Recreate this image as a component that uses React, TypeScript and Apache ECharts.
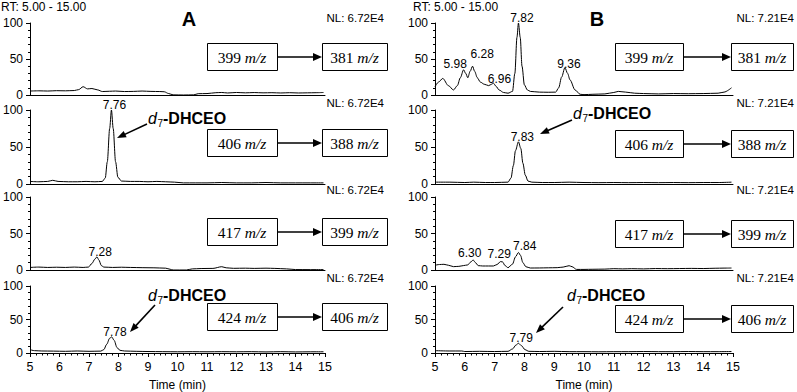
import React, { useEffect, useRef } from "react";
import * as echarts from "echarts";

// ---------- DATA ----------
const xTicks = [5, 6, 7, 8, 9, 10, 11, 12, 13, 14, 15];
const panelTitles = ["A", "B"];
const rtRange = "RT: 5.00 - 15.00";
const nlA = "NL: 6.72E4";
const nlB = "NL: 7.21E4";
const transitions = [
  ["399", "381"],
  ["406", "388"],
  ["417", "399"],
  ["424", "406"],
];

// Panel A traces (time min, relative abundance %)
const traceA1 = [[5.0,5.5],[5.3,5.8],[5.6,5.5],[5.9,6],[6.2,5.8],[6.5,6.2],[6.65,7.5],[6.8,11.5],[6.95,8.5],[7.1,9],[7.3,7],[7.45,4.8],[7.7,5.2],[7.9,5.5],[8.2,4.8],[8.5,5],[8.8,5.5],[9.1,5],[9.4,4.8],[9.55,4.5],[9.7,2],[9.85,0.2],[10.2,0],[10.55,0.2],[10.7,1.8],[11.0,2],[11.3,3.2],[11.5,3.5],[11.7,2.8],[12.0,3.5],[12.3,3],[12.6,3.4],[12.9,3],[13.2,3.2],[13.5,2.8],[13.8,3.2],[14.1,2.8],[14.4,3],[14.7,3.2],[14.95,3.5]];
const traceA2 = [[5.0,3.5],[5.3,3],[5.6,3.5],[5.77,5],[5.95,3.5],[6.3,3],[6.6,3],[6.9,3.5],[7.2,3],[7.45,3.5],[7.55,8],[7.62,30],[7.7,75],[7.76,100],[7.82,75],[7.9,30],[7.98,9],[8.1,4],[8.4,3.5],[8.7,3.5],[9.0,3],[9.3,3.5],[9.6,3],[9.9,2.5],[10.2,1.5],[10.6,1.5],[11.0,1.5],[11.5,2],[12.0,1.5],[12.5,1.5],[13.0,2],[13.5,1.5],[14.0,1.5],[14.5,1.5],[14.95,1.5]];
const traceA3 = [[5.0,3.5],[5.3,4],[5.6,3.5],[5.9,3.8],[6.2,3.5],[6.5,4],[6.8,3.5],[6.98,4],[7.1,9],[7.2,15],[7.27,18],[7.33,14],[7.42,6],[7.5,4],[7.8,3.5],[8.1,3.8],[8.4,3.5],[8.8,3.2],[9.2,3],[9.6,2.5],[9.75,1],[9.85,0],[10.3,0],[10.5,1.5],[10.8,2],[11.2,2.2],[11.5,4.5],[11.65,3],[11.9,2.3],[12.3,2.5],[12.6,2.2],[13.0,2.5],[13.3,2.2],[13.7,1.5],[14.0,0.6],[14.5,0.5],[14.95,0.5]];
const traceA4 = [[5.0,5],[5.15,3.5],[5.4,3],[5.8,2.8],[6.2,2.5],[6.6,3],[7.0,2.5],[7.4,2.8],[7.5,5],[7.6,13],[7.7,22],[7.77,24],[7.85,19],[7.95,8],[8.05,4],[8.2,3],[8.6,2.5],[9.0,2.2],[9.5,2],[10.0,1.8],[10.5,2],[11.0,1.8],[11.5,2],[12.0,1.8],[12.5,2],[13.0,1.6],[13.5,2],[14.0,1.6],[14.5,1.8],[14.95,1.8]];

// Panel B traces
const traceB1 = [[5.0,11.5],[5.12,18],[5.26,23],[5.45,13],[5.62,7],[5.75,13],[5.85,24],[5.96,35],[6.03,30],[6.1,24],[6.18,33],[6.26,40],[6.33,33],[6.42,24],[6.52,18],[6.65,15],[6.8,13],[6.9,15],[6.96,16.5],[7.05,12],[7.15,7],[7.3,3.5],[7.45,2.5],[7.6,5],[7.68,30],[7.75,80],[7.8,100],[7.86,80],[7.92,40],[8.0,14],[8.1,7],[8.2,5],[8.5,4],[8.8,3.8],[9.05,4],[9.15,10],[9.25,25],[9.36,38],[9.45,30],[9.53,21],[9.7,7],[9.87,1],[10.0,0.5],[10.3,1],[10.7,1.5],[11.0,3.5],[11.15,5],[11.4,4],[11.7,2.5],[12.0,2],[12.5,1.5],[13.0,2],[13.5,1.8],[14.0,2],[14.5,2.5],[14.7,4],[14.95,10]];
const traceB2 = [[5.0,2.5],[5.5,2.5],[6.0,2],[6.3,2.5],[6.7,2],[7.0,2],[7.45,2.5],[7.55,8],[7.63,25],[7.7,45],[7.8,57],[7.88,48],[7.95,28],[8.03,12],[8.12,4],[8.25,2.5],[8.6,2],[9.0,2],[9.5,2.5],[10.0,2],[10.5,1.8],[11.0,2],[11.5,1.8],[12.0,2],[12.5,1.8],[13.0,2],[13.5,1.8],[14.0,2],[14.5,2],[14.95,2.5]];
const traceB3 = [[5.0,6.5],[5.15,7.5],[5.3,7.8],[5.45,6.5],[5.62,4.6],[5.8,5],[5.95,6],[6.1,7],[6.2,11],[6.28,13.7],[6.36,10],[6.45,6],[6.6,5.5],[6.8,5.5],[6.96,5.5],[7.08,7.5],[7.2,11.5],[7.27,11],[7.35,6],[7.45,3.2],[7.6,8],[7.7,18],[7.8,24],[7.87,20],[7.95,10],[8.05,4.5],[8.2,2.7],[8.5,2.8],[8.8,3],[9.1,3.2],[9.3,4],[9.5,5.9],[9.6,4.5],[9.75,0.8],[10.0,0.8],[10.3,1],[10.7,1.2],[11.0,1.8],[11.3,1.5],[11.6,1.8],[12.0,1.5],[12.4,2],[12.8,1.8],[13.2,2],[13.6,2.2],[14.0,2],[14.4,2.4],[14.7,2.6],[14.95,2.7]];
const traceB4 = [[5.0,3.5],[5.5,3],[5.9,3],[6.0,2.2],[6.5,2.5],[7.0,2.2],[7.45,2.5],[7.6,6],[7.72,12],[7.8,14.5],[7.9,11],[8.02,5],[8.15,2.5],[8.5,2.2],[9.0,2.5],[9.5,2],[10.0,2],[10.5,1.8],[11.0,2],[11.5,2],[12.0,2.2],[12.5,2],[13.0,2],[13.5,2.2],[14.0,2],[14.5,2],[14.95,2.2]];

// Labelled peaks: [retention time, apex abundance]
const peaksA1: number[][] = [];
const peaksA2 = [[7.76, 100]];
const peaksA3 = [[7.28, 18]];
const peaksA4 = [[7.78, 24]];
const peaksB1 = [[5.98, 35], [6.28, 40], [6.96, 16.5], [7.82, 100], [9.36, 38]];
const peaksB2 = [[7.83, 57]];
const peaksB3 = [[6.30, 13.7], [7.29, 11.5], [7.84, 24]];
const peaksB4 = [[7.79, 14.5]];

const compoundLabel = "DHCEO";

// ---------- LAYOUT / STYLE ----------
const SANS = "'Liberation Sans', Arial, sans-serif";
const SERIF = "'Liberation Serif', 'Times New Roman', serif";
const gridLefts = [27, 435];
const gridTops = [23, 110, 197, 286];
const gridHeights = [72, 74, 73, 71];
const gridWidth = 298;

// per-peak label offsets (px) [dx, dy] relative to apex
const peakOffsets: Record<string, number[]> = {
  "B0-0": [-9, -6],
  "B0-1": [9, -12],
  "B0-2": [6, -4],
  "B0-4": [4, -4],
  "B2-0": [-4, -7],
  "B2-1": [-4, -8],
  "B2-2": [5, -6],
};

function arrow(x1: number, y1: number, x2: number, y2: number, headLen = 9, headW = 7) {
  const dx = x2 - x1;
  const dy = y2 - y1;
  const len = Math.sqrt(dx * dx + dy * dy);
  const ux = dx / len;
  const uy = dy / len;
  const bx = x2 - ux * headLen;
  const by = y2 - uy * headLen;
  const px = -uy * (headW / 2);
  const py = ux * (headW / 2);
  return [
    {
      type: "line",
      shape: { x1, y1, x2: bx + ux * 1, y2: by + uy * 1 },
      style: { stroke: "#000", lineWidth: 1.6 },
      silent: true,
    },
    {
      type: "polygon",
      shape: { points: [[x2, y2], [bx + px, by + py], [bx - px, by - py]] },
      style: { fill: "#000" },
      silent: true,
    },
  ];
}

function transitionBox(x1: number, w1: number, x2: number, w2: number, top: number, from: string, to: string) {
  const h = 27;
  const cy = top + h / 2;
  const rich = {
    n: { fontFamily: SERIF, fontSize: 15.5, fill: "#000" },
    i: { fontFamily: SERIF, fontSize: 15.5, fontStyle: "italic", fill: "#000" },
  };
  return [
    { type: "rect", shape: { x: x1 + 0.5, y: top + 0.5, width: w1, height: h }, style: { fill: "#fff", stroke: "#000", lineWidth: 1 } },
    { type: "rect", shape: { x: x2 + 0.5, y: top + 0.5, width: w2, height: h }, style: { fill: "#fff", stroke: "#000", lineWidth: 1 } },
    { type: "text", x: x1 + w1 / 2, y: cy + 1, style: { text: `{n|${from} }{i|m/z}`, rich, align: "center", verticalAlign: "middle" } },
    { type: "text", x: x2 + w2 / 2, y: cy + 1, style: { text: `{n|${to} }{i|m/z}`, rich, align: "center", verticalAlign: "middle" } },
    ...arrow(x1 + w1, cy + 0.5, x2, cy + 0.5, 9, 8),
  ];
}

function compound(x: number, y: number) {
  return {
    type: "group",
    children: [
      { type: "text", x, y, style: { text: "d", fontFamily: SANS, fontSize: 16, fontStyle: "italic", fill: "#000", align: "left", verticalAlign: "middle" } },
      { type: "text", x: x + 9.5, y: y + 5, style: { text: "7", fontFamily: SANS, fontSize: 10, fill: "#000", align: "left", verticalAlign: "middle" } },
      { type: "text", x: x + 15, y, style: { text: `-${compoundLabel}`, fontFamily: SANS, fontSize: 16, fontWeight: "bold", fill: "#000", align: "left", verticalAlign: "middle" } },
    ],
  };
}

export default function App() {
  const ref = useRef<HTMLDivElement>(null);

  useEffect(() => {
    if (!ref.current) return;
    const chart = echarts.init(ref.current, null, { renderer: "svg" });

    const traces = [traceA1, traceA2, traceA3, traceA4, traceB1, traceB2, traceB3, traceB4];
    const peaks = [peaksA1, peaksA2, peaksA3, peaksA4, peaksB1, peaksB2, peaksB3, peaksB4];

    const grids: any[] = [];
    const xAxes: any[] = [];
    const yAxes: any[] = [];
    const series: any[] = [];

    for (let p = 0; p < 2; p++) {
      for (let r = 0; r < 4; r++) {
        const idx = p * 4 + r;
        const bottom = r === 3;
        grids.push({ left: gridLefts[p], top: gridTops[r], width: gridWidth, height: gridHeights[r] });
        xAxes.push({
          type: "value",
          gridIndex: idx,
          min: xTicks[0],
          max: xTicks[xTicks.length - 1],
          interval: 1,
          axisLine: { show: true, onZero: false, lineStyle: { color: "#000", width: 1 } },
          axisTick: { show: bottom, length: 4, lineStyle: { color: "#000" } },
          minorTick: { show: bottom, splitNumber: 5, length: 2.5, lineStyle: { color: "#000" } },
          axisLabel: { show: bottom, fontFamily: SANS, fontSize: 12.5, color: "#000", margin: 7 },
          splitLine: { show: false },
          name: bottom ? "Time (min)" : "",
          nameLocation: "middle",
          nameGap: 26,
          nameTextStyle: { fontFamily: SANS, fontSize: 12, color: "#000" },
        });
        yAxes.push({
          type: "value",
          gridIndex: idx,
          min: 0,
          max: 100,
          interval: 50,
          axisLine: { show: true, lineStyle: { color: "#000", width: 1 } },
          axisTick: { show: true, length: 4, lineStyle: { color: "#000" } },
          minorTick: { show: true, splitNumber: 5, length: 2, lineStyle: { color: "#000" } },
          axisLabel: { fontFamily: SANS, fontSize: 12, color: "#000", margin: 7 },
          splitLine: { show: false },
        });
        const key = `${p === 0 ? "A" : "B"}${r}`;
        series.push({
          type: "line",
          xAxisIndex: idx,
          yAxisIndex: idx,
          data: traces[idx],
          showSymbol: false,
          smooth: 0.3,
          smoothMonotone: "x",
          lineStyle: { color: "#000", width: 1 },
          markPoint: {
            symbol: "circle",
            symbolSize: 1,
            itemStyle: { color: "rgba(0,0,0,0)" },
            silent: true,
            data: peaks[idx].map((pk, k) => ({
              coord: [pk[0], pk[1]],
              value: pk[0].toFixed(2),
              label: {
                show: true,
                position: "inside",
                offset: peakOffsets[`${key}-${k}`] || [3, -5],
                formatter: pk[0].toFixed(2),
                fontFamily: SANS,
                fontSize: 12,
                color: "#000",
              },
            })),
          },
        });
      }
    }

    const nlRight = [384, 794];
    const nlY = [18, 103, 190, 278];
    const graphics: any[] = [];
    graphics.push({ type: "text", x: 1, y: 7, style: { text: rtRange, fontFamily: SANS, fontSize: 12, fill: "#000", verticalAlign: "middle" } });
    graphics.push({ type: "text", x: 413, y: 7, style: { text: rtRange, fontFamily: SANS, fontSize: 12, fill: "#000", verticalAlign: "middle" } });
    graphics.push({ type: "text", x: 189, y: 19, style: { text: panelTitles[0], fontFamily: SANS, fontSize: 20, fontWeight: "bold", fill: "#000", align: "center", verticalAlign: "middle" } });
    graphics.push({ type: "text", x: 597, y: 19, style: { text: panelTitles[1], fontFamily: SANS, fontSize: 20, fontWeight: "bold", fill: "#000", align: "center", verticalAlign: "middle" } });
    for (let r = 0; r < 4; r++) {
      graphics.push({ type: "text", x: nlRight[0], y: nlY[r], style: { text: nlA, fontFamily: SANS, fontSize: 11.5, fill: "#000", align: "right", verticalAlign: "middle" } });
      graphics.push({ type: "text", x: nlRight[1], y: nlY[r], style: { text: nlB, fontFamily: SANS, fontSize: 11.5, fill: "#000", align: "right", verticalAlign: "middle" } });
    }
    const boxTopsA = [43, 129, 218, 303];
    const boxTopsB = [43, 130, 220, 305];
    for (let r = 0; r < 4; r++) {
      graphics.push(...transitionBox(207, 70, 322, 65, boxTopsA[r], transitions[r][0], transitions[r][1]));
      graphics.push(...transitionBox(615, 68, 731, 62, boxTopsB[r], transitions[r][0], transitions[r][1]));
    }
    graphics.push(compound(148, 118));
    graphics.push(...arrow(147, 124, 117, 138));
    graphics.push(compound(573, 113));
    graphics.push(...arrow(572, 120, 540, 134));
    graphics.push(compound(148, 295));
    graphics.push(...arrow(155, 305, 130, 332));
    graphics.push(compound(567, 295));
    graphics.push(...arrow(563, 307, 536, 333));

    chart.setOption({
      animation: false,
      backgroundColor: "#fff",
      grid: grids,
      xAxis: xAxes,
      yAxis: yAxes,
      series,
      graphic: { elements: graphics },
    });

    return () => chart.dispose();
  }, []);

  return (
    <div
      ref={ref}
      style={{ position: "absolute", left: 0, top: 0, width: 797, height: 392 }}
    />
  );
}
